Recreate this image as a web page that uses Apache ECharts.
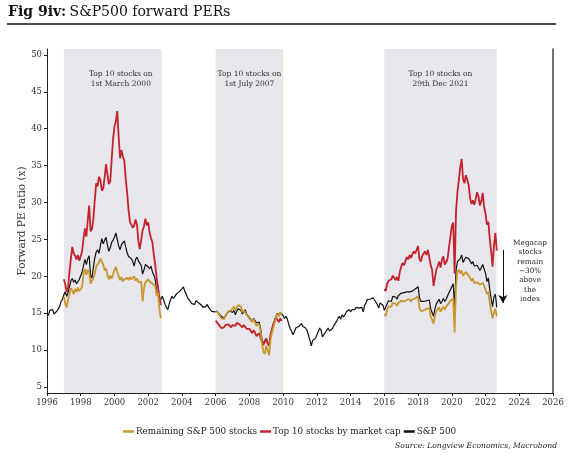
<!DOCTYPE html>
<html>
<head>
<meta charset="utf-8">
<script src="https://cdn.jsdelivr.net/npm/echarts@6/dist/echarts.min.js"></script>
<style>html,body{margin:0;padding:0;background:#fff}#c{width:575px;height:456px}</style>
</head>
<body>
<div id="c"></div>
<script>
// ---- Data (monthly forward PE readings) ----
const xTicksStart = 1996, xTicksEnd = 2026;
const yTickValues = [5, 10, 15, 20, 25, 30, 35, 40, 45, 50];

// S&P 500: monthly from Jan 1996
const spxStart = 1996;
const spxValues = [
  15.0, 14.7, 15.4, 15.2, 15.5, 14.9, 14.7, 15.3, 15.6, 15.9, 16.6, 16.9,
  17.5, 17.9, 17.3, 17.8, 18.6, 19.4, 19.7, 19.2, 19.5, 19.0, 19.3, 19.6,
  19.8, 20.6, 21.5, 22.3, 21.6, 22.4, 22.8, 20.1, 19.8, 21.2, 22.5, 23.3,
  23.6, 23.1, 24.2, 25.1, 24.4, 24.9, 25.3, 24.2, 23.4, 23.9, 24.6, 24.9,
  25.3, 25.9, 25.0, 24.1, 23.6, 24.3, 24.5, 24.8, 24.0, 23.2, 22.7, 22.9,
  22.4, 22.0, 21.4, 22.3, 22.6, 22.1, 21.8, 21.5, 20.3, 20.9, 21.6, 21.5,
  21.3, 21.0, 21.4, 20.6, 20.2, 19.6, 18.0, 17.6, 16.5, 16.9, 17.3, 16.8,
  16.2, 15.8, 15.5, 16.3, 16.9, 17.3, 17.0, 17.2, 17.6, 17.4, 17.9, 18.1,
  18.3, 18.6, 18.0, 17.6, 17.1, 17.3, 16.6, 16.3, 16.5, 16.2, 16.7, 16.6,
  16.4, 16.6, 16.1, 15.8, 16.0, 15.9, 16.2, 15.8, 15.6, 15.3, 15.5, 15.2,
  15.1, 15.3, 15.0, 15.2, 14.6, 14.4, 14.3, 14.7, 15.0, 15.2, 15.3, 15.2,
  15.1, 15.4, 14.8, 15.3, 15.6, 15.8, 15.4, 14.9, 15.2, 15.5, 14.9, 14.7,
  14.4, 14.2, 13.9, 14.3, 14.5, 13.7, 13.5, 13.8, 12.9, 11.4, 10.9, 11.3,
  11.6, 10.9, 10.6, 11.8, 12.6, 13.4, 14.2, 14.6, 15.0, 14.7, 15.1, 15.0,
  14.7, 14.3, 14.6, 14.2, 13.5, 12.9, 12.6, 12.1, 12.5, 13.0, 12.8, 13.2,
  13.4, 13.6, 13.2, 13.4, 13.0, 12.7, 12.8, 11.4, 10.6, 11.3, 11.1, 11.6,
  12.1, 12.5, 13.0, 12.7, 11.8, 12.0, 12.4, 12.7, 13.0, 12.6, 12.5, 12.9,
  13.3, 13.5, 13.9, 14.3, 14.6, 14.2, 14.8, 14.5, 14.8, 15.2, 15.3, 15.5,
  15.2, 15.5, 15.4, 15.5, 15.8, 16.0, 15.7, 15.9, 15.8, 15.2, 16.1, 16.4,
  16.9, 17.1, 16.9, 17.0, 17.1, 16.8, 17.0, 16.2, 15.7, 16.4, 16.5, 16.1,
  15.4, 15.2, 16.3, 16.7, 16.8, 16.6, 17.3, 17.4, 17.2, 16.9, 17.4, 17.6,
  17.7, 17.9, 17.8, 17.6, 17.9, 17.8, 17.9, 17.7, 18.0, 18.2, 18.3, 18.5,
  18.6, 17.1, 16.6, 16.4, 16.6, 16.5, 16.7, 16.9, 16.8, 15.6, 15.5, 14.6,
  15.6, 16.3, 16.4, 16.9, 16.3, 16.6, 17.0, 16.6, 16.9, 17.1, 17.8, 18.2,
  18.6, 19.0, 15.8, 20.8, 22.0, 21.8, 22.4, 22.9, 21.9, 22.1, 22.6, 22.7,
  22.4, 22.1, 21.7, 22.0, 21.4, 21.6, 21.5, 21.7, 20.8, 21.2, 21.6, 21.4,
  20.4, 19.3, 19.8, 18.2, 17.0, 15.9, 17.2, 17.6, 15.8
];

// Top 10 stocks by market cap: three windows, monthly
const top10Start2000 = 1997;
const top10Values2000 = [
  19.6, 18.9, 17.9, 18.5, 20.6, 22.4, 24.0, 23.1, 22.8, 22.3, 22.9, 22.1,
  21.9, 23.4, 25.2, 26.5, 25.4, 27.6, 29.6, 26.1, 26.4, 27.8, 30.4, 32.6,
  32.2, 33.5, 33.0, 31.6, 31.9, 33.4, 35.2, 33.8, 32.5, 32.9, 35.8, 38.6,
  40.3, 41.0, 42.4, 38.9, 36.0, 37.1, 36.2, 35.7, 33.2, 31.4, 29.0, 27.4,
  27.0, 26.6, 26.9, 27.7, 27.0, 24.8, 23.7, 24.9, 26.2, 26.8, 27.8, 26.9,
  27.3, 25.9, 25.2, 24.6, 22.9, 21.6, 19.8, 18.5, 17.1, 16.1
];
const top10Start2007 = 2006;
const top10Values2007 = [
  14.0, 13.8, 13.5, 13.3, 13.0, 12.8, 13.1, 13.4, 13.2, 13.5, 13.3, 13.1,
  13.4, 13.6, 13.3, 13.7, 13.9, 13.5, 13.3, 13.1, 13.4, 13.2, 12.9, 12.8,
  12.9, 12.6, 12.3, 12.7, 12.4, 11.9, 12.1, 12.3, 11.6, 11.1, 10.7, 11.2,
  11.5, 10.9, 10.6, 12.1, 12.8, 13.6, 13.9, 14.4, 14.1, 13.8, 14.3, 14.0
];
const top10Start2021 = 2016;
const top10Values2021 = [
  18.3, 18.0, 19.0, 19.4, 19.2, 19.6, 20.1, 19.8, 19.5, 19.9, 19.4, 20.6,
  21.3, 21.8, 21.5, 22.1, 22.6, 22.3, 22.9, 22.5, 23.0, 23.4, 23.1, 23.6,
  24.1, 22.3, 22.0, 22.8, 23.1, 23.4, 22.9, 23.6, 23.8, 21.5, 20.9, 18.7,
  19.8, 20.9, 21.4, 22.0, 21.2, 22.3, 22.7, 21.6, 21.9, 22.4, 23.9, 25.4,
  26.8, 27.3, 20.4, 28.8, 31.4, 33.0, 34.8, 35.9, 33.2, 32.6, 33.7, 33.1,
  32.4, 30.6, 29.8, 30.3, 29.7, 30.5, 31.4, 30.8, 29.6, 30.2, 31.3, 29.4,
  28.5, 27.0, 27.4, 25.1, 23.4, 21.3, 24.2, 25.9, 23.5
];

// Remaining S&P 500 stocks: same three windows, monthly
const restValues2000 = [
  17.2, 16.3, 15.8, 16.9, 17.6, 18.4, 18.1, 17.6, 18.3, 17.9, 18.5, 18.0,
  17.8, 18.6, 20.4, 21.0, 20.2, 20.9, 20.6, 19.0, 19.2, 19.8, 20.4, 21.3,
  21.5, 21.9, 22.4, 22.6, 21.6, 20.8, 21.1, 20.2, 19.6, 20.1, 19.7, 20.3,
  20.8, 21.3, 20.6, 20.0, 19.5, 19.9, 19.3, 19.6, 19.4, 19.8, 19.5, 19.9,
  19.6, 19.8, 20.0, 19.4, 19.7, 19.2, 19.0, 19.3, 16.6, 18.4, 19.2, 19.4,
  19.6, 19.3, 19.5, 19.0, 19.2, 18.7, 17.4, 17.8, 15.5, 14.3
];
const restValues2007 = [
  15.3, 15.1, 15.0, 14.8, 14.3, 14.1, 14.2, 14.6, 14.9, 15.3, 15.5, 15.4,
  15.6, 15.9, 15.4, 15.8, 16.1, 16.3, 15.9, 15.1, 15.4, 15.2, 14.8, 14.6,
  14.3, 14.4, 13.8, 14.2, 14.3, 13.3, 13.1, 13.5, 12.4, 10.8, 9.8, 9.5,
  10.6, 10.0, 9.3, 11.4, 12.3, 13.0, 13.8, 14.5, 14.9, 14.6, 15.1, 14.8
];
const restValues2021 = [
  14.9, 14.6, 15.5, 15.9, 16.1, 15.9, 16.4, 16.5, 16.3, 16.0, 16.4, 16.6,
  16.7, 16.8, 16.6, 16.5, 16.8, 16.7, 16.9, 16.6, 16.9, 17.1, 17.0, 17.2,
  17.3, 15.7, 15.3, 15.1, 15.4, 15.3, 15.6, 15.8, 15.7, 14.6, 14.5, 13.6,
  14.6, 15.3, 15.4, 15.8, 15.2, 15.6, 15.9, 15.5, 15.9, 16.0, 16.4, 16.7,
  16.8, 17.0, 12.4, 18.6, 20.6, 20.9, 20.4, 20.8, 20.1, 20.3, 20.6, 20.4,
  20.1, 19.8, 19.4, 19.7, 19.1, 19.3, 19.2, 19.4, 18.9, 19.0, 19.1, 18.7,
  18.2, 17.6, 17.9, 16.4, 15.3, 14.3, 15.1, 15.6, 14.6
];

// Shaded windows [start, end] in years and their captions
const bandStarts = [1997.0, 2006.0, 2016.0];
const bandEnds = [2002.8, 2010.0, 2022.66];
const bandLabels = ['Top 10 stocks on\n1st March 2000', 'Top 10 stocks on\n1st July 2007', 'Top 10 stocks on\n29th Dec 2021'];

const seriesNames = ['Remaining S&P 500 stocks', 'Top 10 stocks by market cap', 'S&P 500'];

// ---- Build series data ----
function monthly(start, vals) {
  return vals.map((v, i) => [start + i / 12, v]);
}
function joinSegments(segs) {
  const out = [];
  segs.forEach((s, k) => {
    if (k > 0) out.push([s[0][0] - 0.01, '-']);
    s.forEach(p => out.push(p));
  });
  return out;
}
const spxData = monthly(spxStart, spxValues);
const top10Data = joinSegments([
  monthly(top10Start2000, top10Values2000),
  monthly(top10Start2007, top10Values2007),
  monthly(top10Start2021, top10Values2021)
]);
const restData = joinSegments([
  monthly(top10Start2000, restValues2000),
  monthly(top10Start2007, restValues2007),
  monthly(top10Start2021, restValues2021)
]);

const FONT = 'DejaVu Serif';
const chart = echarts.init(document.getElementById('c'), null, {renderer: 'canvas'});

const bandData = bandStarts.map((s, i) => [
  {xAxis: s, label: {offset: [i === 0 ? 8 : 0, 0]}, name: bandLabels[i]},
  {xAxis: bandEnds[i]}
]);

chart.setOption({
  animation: false,
  backgroundColor: '#fff',
  graphic: [
    {
      type: 'text', left: 8, top: 5,
      style: {
        text: '{b|Fig 9iv:} {n|S&P500 forward PERs}',
        rich: {
          b: {fontFamily: FONT, fontWeight: 'bold', fontSize: 14, fill: '#111'},
          n: {fontFamily: FONT, fontSize: 14, fill: '#111'}
        }
      }
    },
    {
      type: 'line', shape: {x1: 7, y1: 24, x2: 556, y2: 24},
      style: {stroke: '#111', lineWidth: 1.5}
    },
    {
      type: 'text', right: 18, top: 442,
      style: {
        text: 'Source: Longview Economics, Macrobond',
        fontFamily: FONT, fontStyle: 'italic', fontSize: 7.6, fill: '#222'
      }
    }
  ],
  grid: {left: 47, right: 22, top: 49, bottom: 63, outerBoundsMode: 'none', containLabel: false},
  legend: {
    data: seriesNames,
    left: 118, top: 422,
    itemWidth: 11, itemHeight: 2.5, itemGap: 3,
    icon: 'rect',
    textStyle: {fontFamily: FONT, fontSize: 8.8, color: '#222', padding: [0, 0, 0, -3]}
  },
  xAxis: {
    type: 'value', min: xTicksStart, max: xTicksEnd, interval: 2,
    axisLine: {lineStyle: {color: '#222', width: 1}},
    axisTick: {show: true, length: 3, lineStyle: {color: '#222'}},
    axisLabel: {fontFamily: FONT, fontSize: 8.5, color: '#333', margin: 5, formatter: v => String(v)},
    splitLine: {show: false}
  },
  yAxis: [
    {
      type: 'value', min: 4.2, max: 50.8,
      name: 'Forward PE ratio (x)', nameLocation: 'middle', nameRotate: 90, nameGap: 19,
      nameMoveOverlap: false,
      nameTextStyle: {fontFamily: FONT, fontSize: 10.5, color: '#333'},
      axisLine: {show: true, lineStyle: {color: '#222', width: 1}},
      axisTick: {show: true, length: 3, customValues: yTickValues, lineStyle: {color: '#222'}},
      axisLabel: {fontFamily: FONT, fontSize: 8.5, color: '#333', margin: 5, customValues: yTickValues},
      splitLine: {show: false}
    },
    {
      type: 'value', min: 4.2, max: 50.8, position: 'right',
      axisLine: {show: true, lineStyle: {color: '#444', width: 1.5}},
      axisTick: {show: false}, axisLabel: {show: false}, splitLine: {show: false}
    }
  ],
  series: [
    {
      name: seriesNames[2], type: 'line', data: spxData, showSymbol: false, symbol: 'none',
      color: '#111', lineStyle: {color: '#111', width: 1.2}, z: 2,
      markArea: {
        silent: true,
        itemStyle: {color: '#e6e6ec'},
        label: {
          show: true, position: 'insideTop', distance: 20,
          fontFamily: FONT, fontSize: 7.5, lineHeight: 10, color: '#333', align: 'center'
        },
        data: bandData
      },
      markPoint: {
        silent: true,
        symbol: 'rect', symbolSize: 1, itemStyle: {color: 'rgba(0,0,0,0)'},
        label: {
          show: true, position: 'inside',
          fontFamily: FONT, fontSize: 7.3, lineHeight: 9.3, color: '#222', align: 'center'
        },
        data: [{coord: [2024.64, 20.7], value: 'Megacap\nstocks\nremain\n~30%\nabove\nthe\nindex',
                label: {formatter: 'Megacap\nstocks\nremain\n~30%\nabove\nthe\nindex'}}]
      },
      markLine: {
        silent: true, animation: false,
        symbolSize: [7, 8],
        lineStyle: {color: '#111', width: 1, type: 'solid'},
        label: {show: false},
        data: [[{coord: [2023.03, 23.6], symbol: 'none'}, {coord: [2023.03, 16.4], symbol: 'arrow'}]]
      }
    },
    {
      name: seriesNames[1], type: 'line', data: top10Data, showSymbol: false, symbol: 'none',
      color: '#c4232b', lineStyle: {color: '#c4232b', width: 1.8}, connectNulls: false, z: 3
    },
    {
      name: seriesNames[0], type: 'line', data: restData, showSymbol: false, symbol: 'none',
      color: '#c9972e', lineStyle: {color: '#c9972e', width: 1.8}, connectNulls: false, z: 4
    }
  ]
});
</script>
</body>
</html>
